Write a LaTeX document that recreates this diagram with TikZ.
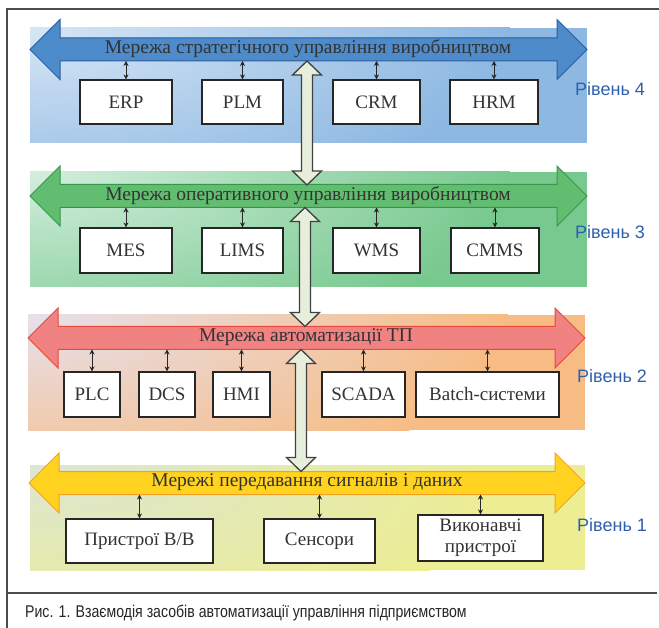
\documentclass[tikz,border=0pt]{standalone}
\usepackage{fontspec}
\usepackage{graphicx}
\setmainfont{Liberation Serif}
\newfontfamily\capfont{Liberation Sans}
\usetikzlibrary{calc,arrows.meta}
\definecolor{bgBlueA}{HTML}{D6E6F5}
\definecolor{bgBlueB}{HTML}{8DB8E2}
\definecolor{arBlue}{HTML}{4E8BCB}
\definecolor{arBlueD}{HTML}{2C5E9E}
\definecolor{bgGreenA}{HTML}{D3EEDD}
\definecolor{bgGreenB}{HTML}{78C98F}
\definecolor{arGreen}{HTML}{63BD70}
\definecolor{arGreenD}{HTML}{35974A}
\definecolor{bgOrA}{HTML}{E6E0EC}
\definecolor{bgOrB}{HTML}{F7BC84}
\definecolor{arRed}{HTML}{F08282}
\definecolor{arRedD}{HTML}{E8493B}
\definecolor{bgYeA}{HTML}{DCE6D2}
\definecolor{bgYeB}{HTML}{EDED92}
\definecolor{arYe}{HTML}{FFD320}
\definecolor{arYeD}{HTML}{F5A020}
\definecolor{vFill}{HTML}{E8EEDC}
\definecolor{lvl}{HTML}{2F5FAE}
\definecolor{txt}{HTML}{333333}
\newcommand\hnetarrow[5]{%
  \draw[line width=1pt,fill=#4,draw=#5,line join=miter]
    (#1,#3) -- ({#1+30},{#3-30}) -- ({#1+30},{#3-11.5}) -- ({#2-30},{#3-11.5})
    -- ({#2-30},{#3-30}) -- (#2,#3) -- ({#2-30},{#3+30}) -- ({#2-30},{#3+11.5})
    -- ({#1+30},{#3+11.5}) -- ({#1+30},{#3+30}) -- cycle;}
\newcommand\vnetarrow[3]{%
  \draw[line width=1.3pt,fill=vFill,draw=black!75,line join=miter]
    (#1,#2) -- ({#1+14.5},{#2+14}) -- ({#1+5.5},{#2+14}) -- ({#1+5.5},{#3-14})
    -- ({#1+14.5},{#3-14}) -- (#1,#3) -- ({#1-14.5},{#3-14}) -- ({#1-5.5},{#3-14})
    -- ({#1-5.5},{#2+14}) -- ({#1-14.5},{#2+14}) -- cycle;}
% background panel with light upper-left corner: x1 y1 x2 y2 colA colB
\newcommand\bgpanel[6]{%
  \begin{scope}
    \clip (#1,#2) rectangle (#3,#4);
    \fill[#6] (#1,#2) rectangle (#3,#4);
    \shade[inner color=#5,outer color=#6] (#1,#2) ellipse [x radius=480pt,y radius=190pt];
  \end{scope}}
\tikzset{
  sysbox/.style={draw=black!85,line width=1.2pt,fill=white,inner sep=0pt,
    font=\fontsize{19}{20}\selectfont,text=txt,align=center},
  nettext/.style={font=\fontsize{19.5}{20}\selectfont,text=txt,inner sep=0pt},
  lvltext/.style={font=\capfont\fontsize{18}{18}\selectfont,text=lvl,anchor=west,inner sep=0pt},
  smallarr/.style={{Stealth[length=5pt,width=5pt]}-{Stealth[length=5pt,width=5pt]},line width=0.8pt,black!85},
  frame/.style={line width=1.2pt,black!70}
}
\begin{document}
\begin{tikzpicture}[x=1pt,y=-1pt]
\useasboundingbox (0,0) rectangle (659,628);
\fill[white] (0,0) rectangle (659,628);
% frame
\draw[frame] (7,628) -- (7,9) -- (659,9);
\draw[frame] (7,593) -- (657,593);
% backgrounds
\bgpanel{30}{28}{587}{143}{bgBlueA}{bgBlueB}
\bgpanel{30}{172}{587}{287}{bgGreenA}{bgGreenB}
\bgpanel{28}{315}{585}{430}{bgOrA}{bgOrB}
\bgpanel{30}{465}{585}{570}{bgYeA}{bgYeB}
% horizontal network arrows
\hnetarrow{30}{587}{49.5}{arBlue}{arBlueD}
\hnetarrow{30}{587}{196}{arGreen}{arGreenD}
\hnetarrow{28}{585}{338}{arRed}{arRedD}
\hnetarrow{29}{585}{483}{arYe}{arYeD}
% vertical arrows
\vnetarrow{307}{61}{185}
\vnetarrow{305}{207.5}{326.5}
\vnetarrow{301}{349.5}{471.5}
% network titles
\node[nettext] (n4) at (308,49) {Мережа стратегічного управління виробництвом};
\node[nettext] (n3) at (308,195.5) {Мережа оперативного управління виробництвом};
\node[nettext] (n2) at (306,337.5) {Мережа автоматизації ТП};
\node[nettext] (n1) at (307,482.5) {Мережі передавання сигналів і даних};
\coordinate (s4) at (0,61);
\coordinate (s3) at (0,207.5);
\coordinate (s2) at (0,349.5);
\coordinate (s1) at (0,494.5);
% level 4
\node[sysbox,minimum width=92pt,minimum height=44pt] (erp) at (126,102) {ERP};
\node[sysbox,minimum width=81pt,minimum height=44pt] (plm) at (242.5,102) {PLM};
\node[sysbox,minimum width=87pt,minimum height=44pt] (crm) at (376.5,102) {CRM};
\node[sysbox,minimum width=88pt,minimum height=44pt] (hrm) at (494,102) {HRM};
% level 3
\node[sysbox,minimum width=92pt,minimum height=45pt] (mes) at (126,250.5) {MES};
\node[sysbox,minimum width=81pt,minimum height=45pt] (lims) at (242.5,250.5) {LIMS};
\node[sysbox,minimum width=87pt,minimum height=45pt] (wms) at (376.5,250.5) {WMS};
\node[sysbox,minimum width=88pt,minimum height=45pt] (cmms) at (495,250.5) {CMMS};
% level 2
\node[sysbox,minimum width=56pt,minimum height=45pt] (plc) at (92,394.5) {PLC};
\node[sysbox,minimum width=56pt,minimum height=45pt] (dcs) at (167,394.5) {DCS};
\node[sysbox,minimum width=57pt,minimum height=45pt] (hmi) at (241.5,394.5) {HMI};
\node[sysbox,minimum width=83pt,minimum height=45pt] (scada) at (363.5,394.5) {SCADA};
\node[sysbox,minimum width=143pt,minimum height=45pt] (batch) at (487.5,394.5) {Batch-системи};
% level 1
\node[sysbox,minimum width=147pt,minimum height=44pt] (io) at (139.5,541) {Пристрої В/В};
\node[sysbox,minimum width=111pt,minimum height=44pt] (sens) at (319.5,541) {Сенсори};
\node[sysbox,minimum width=125pt,minimum height=46pt,font=\fontsize{19}{21}\selectfont] (act) at (480.5,538) {Виконавчі\\пристрої};
% small connectors
\foreach \b/\s in {erp/s4,plm/s4,crm/s4,hrm/s4,mes/s3,lims/s3,wms/s3,cmms/s3,
                   plc/s2,dcs/s2,hmi/s2,scada/s2,batch/s2,io/s1,sens/s1,act/s1}
  \draw[smallarr] (\b.north) -- (\b.north |- \s);
% level labels
\node[lvltext] (l4) at (575,89) {Рівень 4};
\node[lvltext] (l3) at (575,232) {Рівень 3};
\node[lvltext] (l2) at (577,376) {Рівень 2};
\node[lvltext] (l1) at (577,525) {Рівень 1};
% caption
\node[anchor=base west,inner sep=0pt,text=black!85] (cap) at (25,617)
  {\capfont\fontsize{17}{17}\selectfont\scalebox{0.83}[1]{Рис. 1. Взаємодія засобів автоматизації управління підприємством}};
\end{tikzpicture}
\end{document}
